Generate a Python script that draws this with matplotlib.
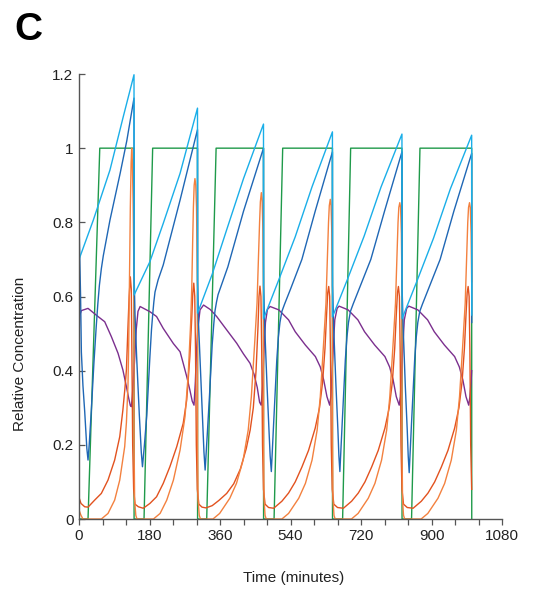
import numpy as np
import matplotlib.pyplot as plt

plt.rcParams['font.family'] = ['Liberation Sans', 'DejaVu Sans']

# (time in minutes, relative concentration)
cyan = [
    (0, 0.70), (36.5, 0.806), (79, 0.941), (113, 1.085), (140.4, 1.198),
    (140.6, 0.604), (181, 0.694), (215, 0.797), (258, 0.932), (302.5, 1.108),
    (302.7, 0.555), (340, 0.66), (377, 0.78), (420, 0.918), (471, 1.065),
    (471.2, 0.54), (510, 0.645), (552, 0.761), (595, 0.896), (647, 1.044),
    (647.2, 0.545), (686, 0.648), (728, 0.763), (771, 0.895), (824.5, 1.038),
    (824.7, 0.54), (863, 0.642), (905, 0.757), (948, 0.89), (1002.5, 1.035),
    (1002.7, 0.55),
]

dark_blue = [
    (0, 0.80), (4, 0.60), (6, 0.45), (10, 0.36), (14.5, 0.29), (20, 0.19), (23, 0.159),
    (26, 0.2), (31.5, 0.294), (38, 0.42), (44, 0.52), (48, 0.58), (52, 0.63), (57, 0.675),
    (62, 0.71), (79, 0.806), (105, 0.932), (122, 1.02), (140.4, 1.135),
    (140.6, 0.66), (143, 0.55), (147, 0.44), (154, 0.28), (159, 0.18), (162, 0.141),
    (167, 0.2), (173, 0.28), (181, 0.438), (185, 0.51), (188, 0.55), (191, 0.585),
    (194, 0.612), (202, 0.645), (215, 0.685), (258, 0.86), (302.5, 1.05),
    (302.7, 0.64), (305, 0.53), (309, 0.43), (315, 0.28), (319, 0.18), (322, 0.132),
    (327, 0.22), (333, 0.33), (340, 0.47), (344, 0.525), (347, 0.56), (351, 0.585),
    (355, 0.605), (365, 0.635), (380, 0.68), (420, 0.83), (471, 1.0),
    (471.2, 0.63), (474, 0.52), (480, 0.36), (485, 0.24), (488, 0.17), (491, 0.128),
    (497, 0.26), (505, 0.43), (509, 0.49), (513, 0.53), (518, 0.56), (525, 0.58),
    (540, 0.62), (569, 0.70), (603, 0.83), (647, 0.99),
    (647.2, 0.63), (650, 0.52), (656, 0.36), (661, 0.24), (663.5, 0.17), (666, 0.128),
    (672, 0.26), (680, 0.43), (684, 0.49), (688, 0.53), (693, 0.56), (700, 0.58),
    (715, 0.62), (745, 0.70), (780, 0.83), (824.5, 0.99),
    (824.7, 0.63), (827.5, 0.52), (833, 0.36), (838, 0.24), (840.5, 0.17), (843, 0.125),
    (849, 0.26), (857, 0.43), (861, 0.49), (865, 0.53), (870, 0.56), (877, 0.58),
    (892, 0.62), (922, 0.70), (957, 0.83), (1002.5, 0.986), (1002.7, 0.53),
]

green = [
    (0, 0), (23, 0), (53, 1), (140.4, 1), (140.6, 0),
    (166, 0), (188, 1), (302.5, 1), (302.7, 0),
    (326, 0), (350, 1), (471, 1), (471.2, 0),
    (498, 0), (520, 1), (647, 1), (647.2, 0),
    (673, 0), (693.5, 1), (824.5, 1), (824.7, 0),
    (849, 0), (870.5, 1), (1002.5, 1), (1002.7, 0),
]

purple = [
    (0, 0.49), (2, 0.55), (6, 0.562), (23, 0.568), (48.5, 0.546), (65.6, 0.532),
    (82.5, 0.492), (99.6, 0.447), (112, 0.402), (121, 0.357), (127, 0.325),
    (131, 0.306), (133.6, 0.303), (136, 0.33), (138, 0.36), (142, 0.43),
    (146, 0.51), (150.6, 0.56), (156, 0.573),
    (181, 0.559), (198, 0.546), (215, 0.514), (241, 0.473), (258, 0.451), (266, 0.42),
    (275, 0.384), (283, 0.348), (289, 0.318), (293.6, 0.307), (297, 0.37),
    (300, 0.456), (304, 0.52), (309, 0.564), (318, 0.577),
    (335, 0.565), (351.5, 0.546), (377, 0.51), (402.6, 0.474), (420, 0.445),
    (436.6, 0.42), (447, 0.39), (455, 0.355), (461, 0.315), (465, 0.307),
    (469, 0.36), (472, 0.45), (476, 0.53), (481, 0.565), (488, 0.573),
    (510, 0.564), (535, 0.537), (552, 0.505), (578, 0.469), (603.5, 0.438),
    (616, 0.41), (624.7, 0.375), (633, 0.33), (640, 0.307), (643, 0.33),
    (646, 0.393), (650, 0.48), (653, 0.537), (659, 0.568), (664, 0.574),
    (687, 0.564), (712, 0.537), (729, 0.505), (755, 0.469), (781, 0.438),
    (793, 0.41), (802, 0.375), (810, 0.33), (817.5, 0.307), (820.5, 0.33),
    (823.5, 0.393), (827.5, 0.48), (830.5, 0.537), (836.5, 0.568), (842, 0.574),
    (865, 0.564), (890, 0.537), (907, 0.505), (933, 0.469), (959, 0.438),
    (971, 0.41), (980, 0.375), (988, 0.33), (995, 0.307), (998, 0.33),
    (1001, 0.37), (1002.5, 0.40),
]

dark_orange = [
    (0, 0.058), (5, 0.042), (14.5, 0.033), (23, 0.032), (40, 0.051), (57, 0.069),
    (74, 0.105), (91, 0.159), (104, 0.222), (112, 0.294), (117, 0.35), (121, 0.402),
    (125, 0.519), (128, 0.60), (131, 0.653), (133.5, 0.62), (135, 0.45), (137, 0.2),
    (139.5, 0.08), (143, 0.04), (151.5, 0.033),
    (164, 0.029), (181, 0.042), (198, 0.06), (215, 0.096), (232, 0.141),
    (249.5, 0.195), (266, 0.258), (275, 0.321), (283, 0.438), (288, 0.546),
    (290.5, 0.61), (293, 0.636), (295.5, 0.60), (297.5, 0.45), (299.5, 0.2),
    (302, 0.08), (306, 0.04), (314, 0.032),
    (324, 0.03), (340, 0.036), (357, 0.05), (377, 0.069), (395, 0.095), (412, 0.135),
    (427, 0.19), (437, 0.24), (445, 0.30), (452, 0.40), (457, 0.52), (459.5, 0.60),
    (462, 0.628), (464.5, 0.60), (466.5, 0.45), (468.5, 0.2), (471, 0.08),
    (475, 0.04), (484, 0.031),
    (497, 0.029), (518, 0.048), (535, 0.07), (552, 0.10), (569, 0.14), (586, 0.185),
    (603, 0.245), (614, 0.30), (622, 0.37), (628, 0.46), (632, 0.55), (635, 0.61),
    (637.5, 0.627), (640, 0.60), (642, 0.45), (644, 0.2), (646.5, 0.08),
    (650.5, 0.04), (660, 0.031),
    (675, 0.029), (696, 0.048), (713, 0.07), (730, 0.10), (747, 0.14), (764, 0.185),
    (781, 0.245), (792, 0.30), (800, 0.37), (806, 0.46), (810, 0.55), (813, 0.61),
    (815.5, 0.627), (818, 0.60), (820, 0.45), (822, 0.2), (824.5, 0.08),
    (828.5, 0.04), (838, 0.031),
    (853, 0.029), (874, 0.048), (891, 0.07), (908, 0.10), (925, 0.14), (942, 0.185),
    (959, 0.245), (970, 0.30), (978, 0.37), (984, 0.46), (988, 0.55), (991, 0.61),
    (993.5, 0.627), (996, 0.60), (998, 0.45), (1000, 0.2), (1002.5, 0.08),
]

light_orange = [
    (0, 0.024), (5, 0.01), (10, 0), (57, 0), (74, 0.015), (91, 0.051), (104, 0.105),
    (116.6, 0.195), (121, 0.26), (125, 0.36), (127, 0.48), (129, 0.66), (131, 0.84),
    (133, 0.96), (134.5, 1.0), (136, 0.97), (138, 0.86), (140.4, 0.65),
    (140.6, 0.2), (142, 0.05), (145, 0.01), (148, 0),
    (190, 0), (207, 0.015), (224, 0.051), (241, 0.105), (258, 0.186), (270.6, 0.276),
    (279, 0.393), (285, 0.528), (288, 0.63), (290, 0.74), (292, 0.84), (294, 0.9),
    (296, 0.918), (298, 0.9), (300, 0.84), (302.5, 0.62),
    (302.7, 0.2), (304, 0.05), (307, 0.01), (310, 0),
    (342, 0), (359, 0.015), (385, 0.056), (402, 0.096), (419, 0.159), (432, 0.24),
    (440, 0.33), (449, 0.483), (454.5, 0.582), (458, 0.70), (461, 0.80),
    (463, 0.855), (465.5, 0.88), (467.5, 0.86), (469.5, 0.78), (471, 0.64),
    (471.2, 0.2), (472.5, 0.05), (475, 0.01), (478, 0),
    (518, 0), (535, 0.015), (561, 0.056), (578, 0.096), (595, 0.159), (608, 0.24),
    (616, 0.33), (625, 0.483), (630.5, 0.582), (634, 0.70), (637, 0.80),
    (639, 0.845), (641.5, 0.862), (643.5, 0.845), (645.5, 0.77), (647, 0.64),
    (647.2, 0.2), (648.5, 0.05), (651, 0.01), (654, 0),
    (695.5, 0), (712.5, 0.015), (738.5, 0.056), (755.5, 0.096), (772.5, 0.159),
    (785.5, 0.24), (793.5, 0.33), (802.5, 0.483), (808, 0.582), (811.5, 0.70),
    (814.5, 0.80), (816.5, 0.84), (819, 0.853), (821, 0.84), (823, 0.77),
    (824.5, 0.64), (824.7, 0.2), (826, 0.05), (828.5, 0.01), (831.5, 0),
    (873.5, 0), (890.5, 0.015), (916.5, 0.056), (933.5, 0.096), (950.5, 0.159),
    (963.5, 0.24), (971.5, 0.33), (980.5, 0.483), (986, 0.582), (989.5, 0.70),
    (992.5, 0.80), (994.5, 0.84), (997, 0.853), (999, 0.84), (1001, 0.77),
    (1002.5, 0.64),
]

x_major = [0, 180, 360, 540, 720, 900, 1080]
y_major = [0, 0.2, 0.4, 0.6, 0.8, 1.0, 1.2]
y_labels = ['0', '0.2', '0.4', '0.6', '0.8', '1', '1.2']

series = [
    (green, '#1f9a4a'),
    (purple, '#7b2f8e'),
    (dark_orange, '#e2521f'),
    (light_orange, '#f3813f'),
    (dark_blue, '#1f67b5'),
    (cyan, '#1aaee8'),
]

fig = plt.figure(figsize=(5.39, 5.92), dpi=100)
ax = fig.add_axes([0.1466, 0.1233, 0.7848, 0.7517])

for data, color in series:
    d = np.array(data)
    ax.plot(d[:, 0], d[:, 1], color=color, lw=1.0)

ax.set_xlim(0, 1080)
ax.set_ylim(0, 1.2)
ax.set_xticks(x_major)
ax.set_xticks(np.arange(0, 1081, 60), minor=True)
ax.set_yticks(y_major)
ax.set_yticklabels(y_labels)

for s in ['top', 'right']:
    ax.spines[s].set_visible(False)
for s in ['left', 'bottom']:
    ax.spines[s].set_color('#555555')
    ax.spines[s].set_linewidth(1.0)

ax.tick_params(axis='x', which='both', direction='out', length=4, width=0.9,
               color='#555555', labelsize=11, labelcolor='#222222', pad=3)
ax.tick_params(axis='y', direction='in', length=4.5, width=0.9,
               color='#555555', labelsize=11, labelcolor='#222222', pad=4)

ax.set_xlabel('Time (minutes)', fontsize=11, color='#222222', va='center')
ax.xaxis.set_label_coords(0.507, -0.1326)
ax.set_ylabel('Relative Concentration', fontsize=11, color='#222222', va='center')
ax.yaxis.set_label_coords(-0.14, 0.372)

fig.text(0.026, 0.9324, 'C', fontsize=28, fontweight='bold', va='baseline')

fig.savefig('out.png', dpi=100)
